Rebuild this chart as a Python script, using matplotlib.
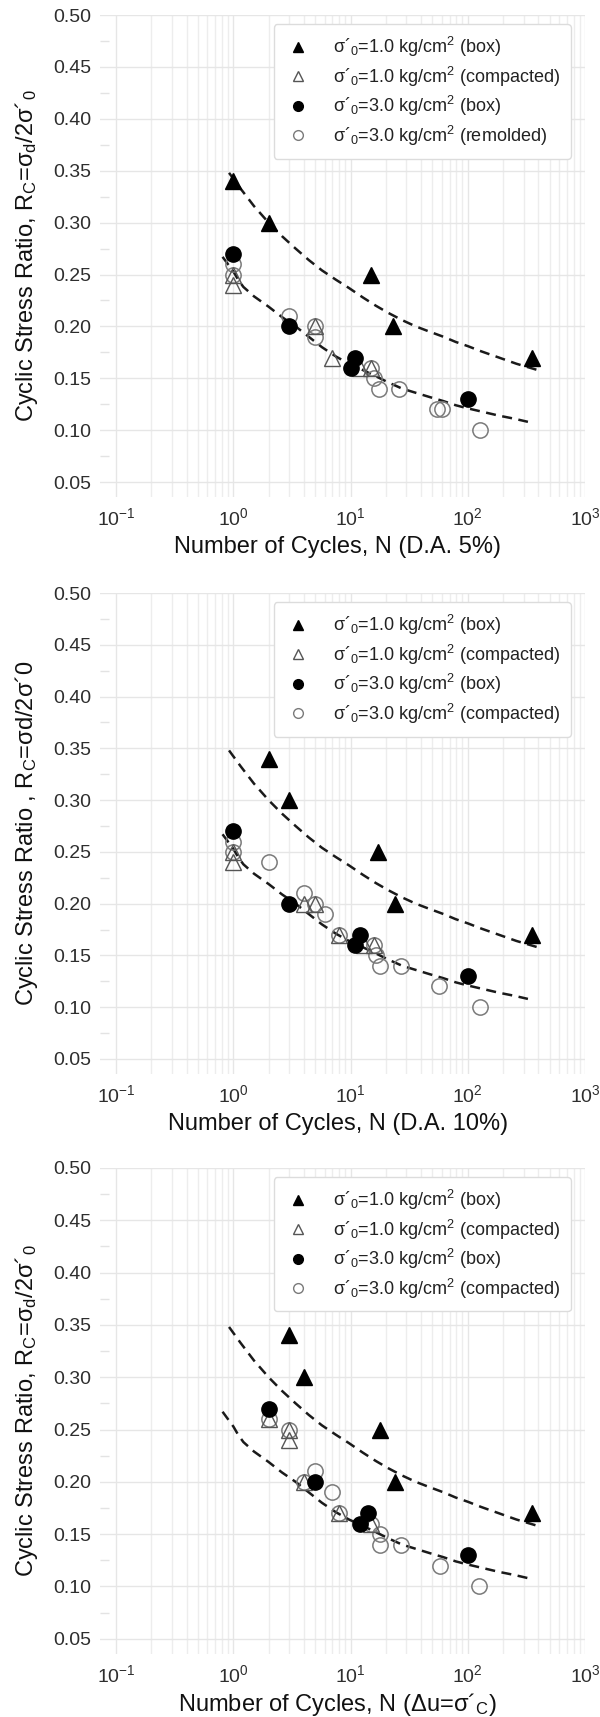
import matplotlib
matplotlib.use("Agg")
import matplotlib.pyplot as plt
from matplotlib.ticker import FixedLocator, NullFormatter
from matplotlib.lines import Line2D

plt.rcParams['font.family'] = ['Liberation Sans', 'DejaVu Sans']
plt.rcParams['mathtext.fontset'] = 'custom'
plt.rcParams['mathtext.rm'] = 'Liberation Sans'
plt.rcParams['mathtext.it'] = 'Liberation Sans:italic'
plt.rcParams['mathtext.bf'] = 'Liberation Sans:bold'

# ---- data ----
# panel 1: D.A. 5%
p1_box1_n = [1, 2, 15, 23, 350]
p1_box1_r = [0.34, 0.30, 0.25, 0.20, 0.17]
p1_cmp1_n = [1, 1, 5, 7, 12, 15]
p1_cmp1_r = [0.24, 0.25, 0.20, 0.17, 0.16, 0.16]
p1_box3_n = [1, 3, 10, 11, 100]
p1_box3_r = [0.27, 0.20, 0.16, 0.17, 0.13]
p1_oth3_n = [1, 1, 3, 5, 5, 15, 16, 17.5, 26, 55, 60, 128]
p1_oth3_r = [0.25, 0.26, 0.21, 0.20, 0.19, 0.16, 0.15, 0.14, 0.14, 0.12, 0.12, 0.10]

# panel 2: D.A. 10%
p2_box1_n = [2, 3, 17, 24, 350]
p2_box1_r = [0.34, 0.30, 0.25, 0.20, 0.17]
p2_cmp1_n = [1, 1, 4, 5, 8, 13, 16]
p2_cmp1_r = [0.24, 0.25, 0.20, 0.20, 0.17, 0.16, 0.16]
p2_box3_n = [1, 3, 11, 12, 100]
p2_box3_r = [0.27, 0.20, 0.16, 0.17, 0.13]
p2_oth3_n = [1, 1, 2, 4, 5, 6, 8, 16, 16.5, 18, 27, 57, 128]
p2_oth3_r = [0.25, 0.26, 0.24, 0.21, 0.20, 0.19, 0.17, 0.16, 0.15, 0.14, 0.14, 0.12, 0.10]

# panel 3: du = s'c
p3_box1_n = [3, 4, 18, 24, 350]
p3_box1_r = [0.34, 0.30, 0.25, 0.20, 0.17]
p3_cmp1_n = [2, 3, 3, 4, 8, 15]
p3_cmp1_r = [0.26, 0.25, 0.24, 0.20, 0.17, 0.16]
p3_box3_n = [2, 5, 12, 14, 100]
p3_box3_r = [0.27, 0.20, 0.16, 0.17, 0.13]
p3_oth3_n = [2, 3, 4, 5, 7, 8, 15, 18, 18, 27, 58, 125]
p3_oth3_r = [0.26, 0.25, 0.20, 0.21, 0.19, 0.17, 0.16, 0.15, 0.14, 0.14, 0.12, 0.10]

# dashed trend curves (same in all panels)
upper_n = [0.92, 1.15, 1.5, 2.0, 2.6, 3.4, 4.4, 5.7, 7.5, 9.7, 12.7, 16.4, 21, 27.6,
           36, 47, 62, 79, 100, 130, 184, 260, 420]
upper_r = [0.348, 0.333, 0.316, 0.300, 0.287, 0.275, 0.264, 0.254, 0.245, 0.237, 0.228,
           0.220, 0.213, 0.206, 0.200, 0.195, 0.190, 0.185, 0.181, 0.176, 0.170, 0.164, 0.157]
lower_n = [0.81, 0.9, 1.0, 1.1, 1.22, 1.5, 2.0, 2.6, 3.4, 4.4, 5.7, 7.5, 9.7, 12.7, 16.4,
           21, 27.6, 36, 47, 62, 79, 100, 130, 184, 250, 326]
lower_r = [0.267, 0.260, 0.253, 0.245, 0.238, 0.229, 0.219, 0.209, 0.200, 0.190, 0.180,
           0.171, 0.164, 0.158, 0.152, 0.146, 0.140, 0.136, 0.132, 0.128, 0.124, 0.121,
           0.118, 0.114, 0.111, 0.108]

x_ticks = [0.1, 1, 10, 100, 1000]
x_tick_labels = [r'$10^{-1}$', r'$10^{0}$', r'$10^{1}$', r'$10^{2}$', r'$10^{3}$']
y_ticks = [0.05, 0.10, 0.15, 0.20, 0.25, 0.30, 0.35, 0.40, 0.45, 0.50]

lab_box1 = r"σ´$_0$=1.0 kg/cm$^2$ (box)"
lab_cmp1 = r"σ´$_0$=1.0 kg/cm$^2$ (compacted)"
lab_box3 = r"σ´$_0$=3.0 kg/cm$^2$ (box)"
lab_rem3 = r"σ´$_0$=3.0 kg/cm$^2$ (remolded)"
lab_cmp3 = r"σ´$_0$=3.0 kg/cm$^2$ (compacted)"

ylab_a = r"Cyclic Stress Ratio, R$_\mathrm{C}$=σ$_\mathrm{d}$/2σ´$_0$"
ylab_b = r"Cyclic Stress Ratio , R$_\mathrm{C}$=σd/2σ´0"

panels = [
    dict(pos=[0.1667, 0.7105, 0.8083, 0.2807],
         data=[(p1_box1_n, p1_box1_r), (p1_cmp1_n, p1_cmp1_r),
               (p1_box3_n, p1_box3_r), (p1_oth3_n, p1_oth3_r)],
         labels=[lab_box1, lab_cmp1, lab_box3, lab_rem3],
         xlabel="Number of Cycles, N (D.A. 5%)", ylabel=ylab_a),
    dict(pos=[0.1667, 0.3745, 0.8083, 0.2801],
         data=[(p2_box1_n, p2_box1_r), (p2_cmp1_n, p2_cmp1_r),
               (p2_box3_n, p2_box3_r), (p2_oth3_n, p2_oth3_r)],
         labels=[lab_box1, lab_cmp1, lab_box3, lab_cmp3],
         xlabel="Number of Cycles, N (D.A. 10%)", ylabel=ylab_b),
    dict(pos=[0.1667, 0.0367, 0.8083, 0.2831],
         data=[(p3_box1_n, p3_box1_r), (p3_cmp1_n, p3_cmp1_r),
               (p3_box3_n, p3_box3_r), (p3_oth3_n, p3_oth3_r)],
         labels=[lab_box1, lab_cmp1, lab_box3, lab_cmp3],
         xlabel=r"Number of Cycles, N (Δu=σ´$_\mathrm{C}$)", ylabel=ylab_a),
]

# marker styles: filled tri, open tri, filled circle, open circle
styles = [
    dict(marker='^', mfc='black', mec='black', mew=1.0, zorder=6),
    dict(marker='^', mfc='none', mec='#555555', mew=1.0, zorder=4),
    dict(marker='o', mfc='black', mec='black', mew=1.0, zorder=5),
    dict(marker='o', mfc='none', mec='#7a7a7a', mew=1.1, zorder=3),
]

fig = plt.figure(figsize=(6, 17.17), dpi=100)

minor_x = [m * 10.0 ** e for e in range(-1, 3) for m in range(2, 10)]
minor_y = [0.075, 0.125, 0.175, 0.225, 0.275, 0.325, 0.375, 0.425, 0.475]

for p in panels:
    ax = fig.add_axes(p['pos'])
    ax.set_xscale('log')
    ax.set_xlim(0.073, 1000)
    ax.set_ylim(0.0355, 0.50)
    for s in ax.spines.values():
        s.set_visible(False)

    ax.xaxis.set_major_locator(FixedLocator(x_ticks))
    ax.set_xticklabels(x_tick_labels)
    ax.xaxis.set_minor_locator(FixedLocator(minor_x))
    ax.xaxis.set_minor_formatter(NullFormatter())
    ax.set_yticks(y_ticks)
    ax.set_yticklabels(['%.2f' % v for v in y_ticks])
    ax.yaxis.set_minor_locator(FixedLocator(minor_y))

    ax.grid(which='major', color='#e6e6e6', lw=1.0, zorder=0)
    ax.grid(which='minor', axis='x', color='#ededed', lw=1.0, zorder=0)
    ax.tick_params(which='major', length=0, labelsize=14, labelcolor='#2e2e2e')
    ax.tick_params(axis='y', which='major', pad=6)
    ax.tick_params(axis='x', which='major', pad=7)
    ax.tick_params(axis='x', which='minor', length=0)
    ax.tick_params(axis='y', which='minor', direction='in', length=6.5,
                   color='#e3e3e3', width=1.0)

    ax.plot(upper_n, upper_r, ls=(0, (4, 2.6)), color='#1a1a1a', lw=1.8, zorder=2)
    ax.plot(lower_n, lower_r, ls=(0, (4, 2.6)), color='#1a1a1a', lw=1.8, zorder=2)

    handles = []
    for (n, r), st, lab in zip(p['data'], styles, p['labels']):
        ax.plot(n, r, ls='none', ms=11, **st)
        handles.append(Line2D([], [], ls='none', marker=st['marker'], mfc=st['mfc'],
                              mec=st['mec'], mew=1.0, ms=7, label=lab))

    leg = ax.legend(handles=handles, loc='upper right', bbox_to_anchor=(0.971, 0.981),
                    borderaxespad=0, fontsize=13, frameon=True, fancybox=True,
                    framealpha=1, edgecolor='#dcdcdc', handlelength=1.5,
                    handletextpad=1.2, labelspacing=0.3, borderpad=0.6)
    leg.get_frame().set_linewidth(1.0)
    for t in leg.get_texts():
        t.set_color('#222222')

    ax.set_xlabel(p['xlabel'], fontsize=17, color='#111111')
    ax.xaxis.set_label_coords(0.49, -0.103)
    ax.xaxis.label.set_va('center')
    ax.set_ylabel(p['ylabel'], fontsize=17, color='#111111')
    ax.yaxis.set_label_coords(-0.152, 0.5)
    ax.yaxis.label.set_va('center')

fig.savefig('out.png', dpi=100)
